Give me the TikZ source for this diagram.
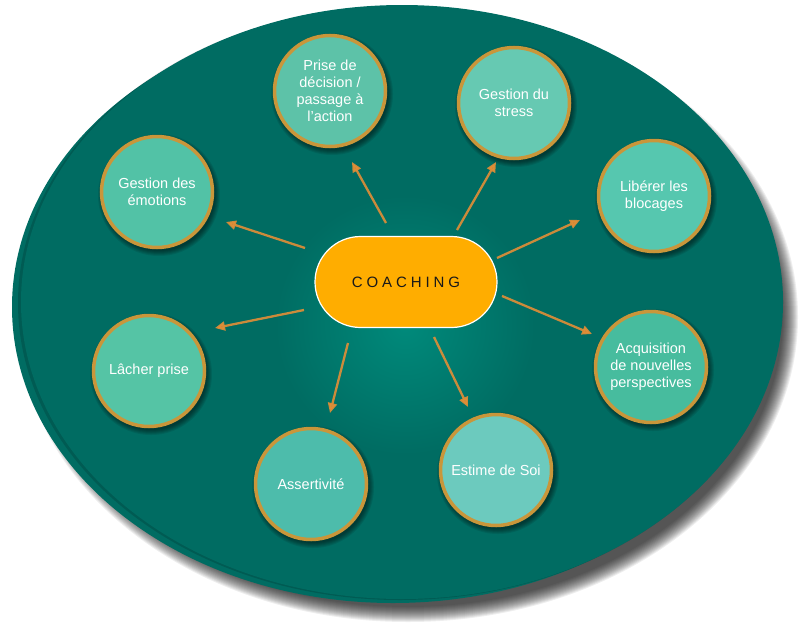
\documentclass[tikz,border=0pt]{standalone}
\usepackage{fontspec}
\setmainfont{Liberation Sans}
\usetikzlibrary{arrows.meta,shapes.misc}
\definecolor{bgteal}{HTML}{006C62}
\definecolor{glowc}{HTML}{008A7B}
\definecolor{goldc}{HTML}{C9963A}
\definecolor{arrc}{HTML}{E38E36}
\definecolor{coachc}{HTML}{FFAD00}
\definecolor{cA}{HTML}{5DC2A8}
\definecolor{cB}{HTML}{66C9B2}
\definecolor{cC}{HTML}{52C2A6}
\definecolor{cD}{HTML}{56C7AF}
\definecolor{cE}{HTML}{47BC9E}
\definecolor{cF}{HTML}{55C4A5}
\definecolor{cG}{HTML}{4DBCAB}
\definecolor{cH}{HTML}{6CCABE}
\tikzset{
  bubble/.style={circle, minimum size=111pt, inner sep=0pt, draw=goldc, line width=3.5pt,
    text=white, align=center, font=\fontsize{14.5}{17}\selectfont},
  coachbox/.style={rounded rectangle, minimum width=182pt, minimum height=91pt, inner sep=0pt,
    fill=coachc, draw=white, line width=1.2pt, text=black!90, font=\fontsize{15}{18}\selectfont},
  conn/.style={draw=arrc, opacity=0.9, line width=2.3pt, -{Triangle[length=10pt,width=9pt]}},
}
\newcommand\mybubble[5]{%
  \foreach \k in {0,...,5}{\fill[black,opacity=0.09] ({#2+2},{#3+3}) circle ({61pt-\k pt});}
  \node[bubble, fill=#4] (#1) at (#2,#3) {#5};
}
\begin{document}
\begin{tikzpicture}[x=1pt,y=-1pt]
\useasboundingbox (0,0) rectangle (799,637);
% main ellipse shadow
\foreach \k in {0,...,15}{\fill[black,opacity=0.065] (408,317) ellipse [x radius={390pt-\k pt}, y radius={305pt-\k pt}];}
% back ellipse
\fill[bgteal] (393,307) ellipse [x radius=381pt, y radius=296pt];
\fill[black,opacity=0.15] (400,303) ellipse [x radius=382pt, y radius=297pt];
% main ellipse
\fill[bgteal] (402,302) ellipse [x radius=381pt, y radius=297pt];
% glow
\shade[inner color=glowc, outer color=bgteal] (405,325) circle (130pt);
% bubbles
\mybubble{prise}{330}{91}{cA}{Prise de\\décision /\\passage à\\l’action}
\mybubble{stress}{514}{103}{cB}{Gestion du\\stress}
\mybubble{emo}{157}{192}{cC}{Gestion des\\émotions}
\mybubble{lib}{654}{196}{cD}{Libérer les\\blocages}
\mybubble{acq}{651}{367}{cE}{Acquisition\\de nouvelles\\perspectives}
\mybubble{lach}{149}{371}{cF}{Lâcher prise}
\mybubble{ass}{311}{484}{cG}{Assertivité}
\mybubble{est}{496}{470}{cH}{Estime de Soi}
% center
\node[coachbox] (coach) at (406,282) {C\kern3.9pt O\kern3.9pt A\kern3.9pt C\kern3.9pt H\kern3.9pt I\kern3.9pt N\kern3.9pt G};
% arrow coordinates
\coordinate (s1) at (386,223); \coordinate (e1) at (352,162);
\coordinate (s2) at (457,230); \coordinate (e2) at (496,162);
\coordinate (s3) at (305,248); \coordinate (e3) at (226,222);
\coordinate (s4) at (497,258); \coordinate (e4) at (580,220);
\coordinate (s5) at (502,296); \coordinate (e5) at (592,334);
\coordinate (s6) at (304,310); \coordinate (e6) at (215,328);
\coordinate (s7) at (348,343); \coordinate (e7) at (330,413);
\coordinate (s8) at (434,337); \coordinate (e8) at (468,407);
\foreach \i in {1,...,8}{\draw[conn] (s\i) -- (e\i);}
\end{tikzpicture}
\end{document}
